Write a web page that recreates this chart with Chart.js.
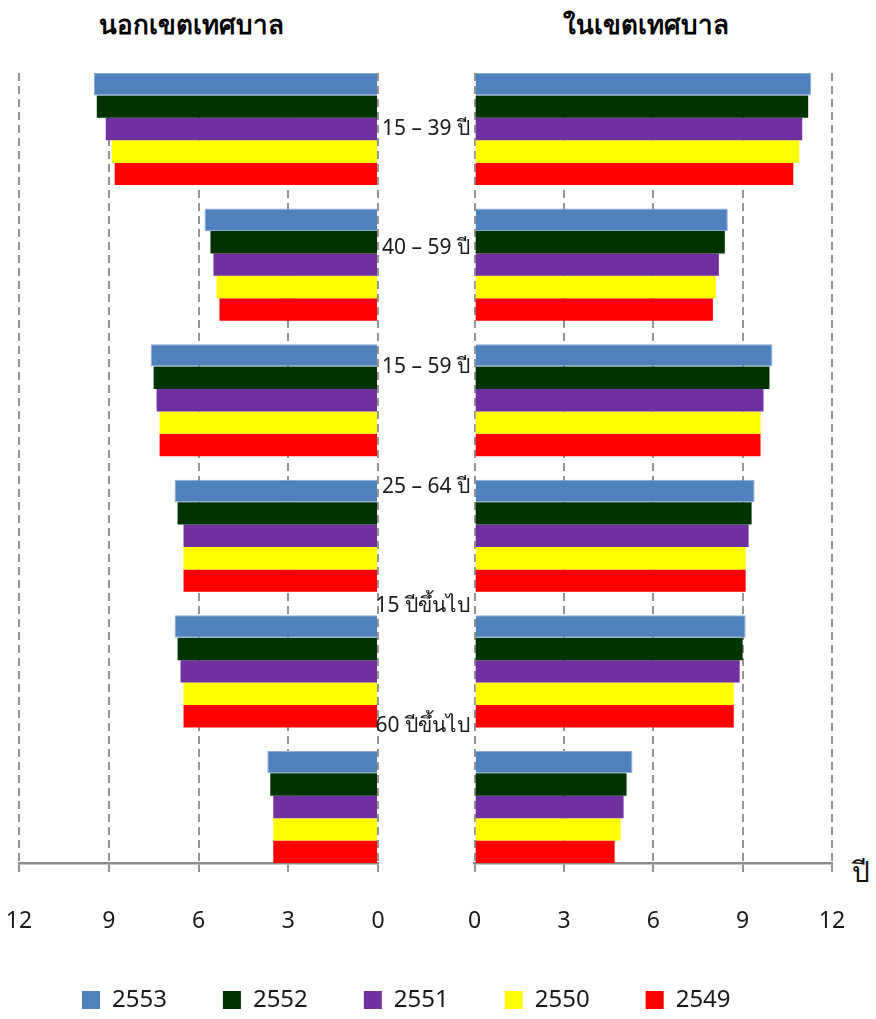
<!DOCTYPE html>
<html>
<head>
<meta charset="utf-8">
<script src="https://cdn.jsdelivr.net/npm/chart.js@4.4.1/dist/chart.umd.min.js"></script>
<style>
  html, body { margin: 0; padding: 0; background: #ffffff; }
  body { width: 876px; height: 1019px; position: relative; overflow: hidden;
         font-family: Tahoma, 'Noto Sans', 'DejaVu Sans', sans-serif; }
  .box { position: absolute; }
  .title { position: absolute; text-align: center; font-weight: bold; font-size: 26px; color: #000; white-space: nowrap; }
  .unit { position: absolute; font-size: 28px; color: #111; }
</style>
</head>
<body>
<div class="title" style="left:91px; top:4px; width:201px;">นอกเขตเทศบาล</div>
<div class="title" style="left:546px; top:4px; width:200px;">ในเขตเทศบาล</div>
<div class="unit" style="left:852px; top:850px;">ปี</div>

<div class="box" style="left:0px; top:0px; width:390px; height:960px;"><canvas id="left"></canvas></div>
<div class="box" style="left:460px; top:0px; width:392px; height:960px;"><canvas id="right"></canvas></div>
<div class="box" style="left:362px; top:0px; width:114px; height:800px;"><canvas id="labels"></canvas></div>
<div class="box" style="left:0px; top:932px; width:876px; height:140px;"><canvas id="legend"></canvas></div>

<script>
// ---- data ----
const categories = ['15 – 39 ปี', '40 – 59 ปี', '15 – 59 ปี', '25 – 64 ปี', '15 ปีขึ้นไป', '60 ปีขึ้นไป'];
const years = ['2553', '2552', '2551', '2550', '2549'];
const colors = ['#4F81BD', '#003300', '#7030A0', '#FFFF00', '#FF0000'];

// นอกเขตเทศบาล (outside municipal area)
const outside2553 = [9.5, 5.8, 7.6, 6.8, 6.8, 3.7];
const outside2552 = [9.4, 5.6, 7.5, 6.7, 6.7, 3.6];
const outside2551 = [9.1, 5.5, 7.4, 6.5, 6.6, 3.5];
const outside2550 = [8.9, 5.4, 7.3, 6.5, 6.5, 3.5];
const outside2549 = [8.8, 5.3, 7.3, 6.5, 6.5, 3.5];

// ในเขตเทศบาล (inside municipal area)
const inside2553 = [11.3, 8.5, 10.0, 9.4, 9.1, 5.3];
const inside2552 = [11.2, 8.4, 9.9, 9.3, 9.0, 5.1];
const inside2551 = [11.0, 8.2, 9.7, 9.2, 8.9, 5.0];
const inside2550 = [10.9, 8.1, 9.6, 9.1, 8.7, 4.9];
const inside2549 = [10.7, 8.0, 9.6, 9.1, 8.7, 4.7];

const xTicks = [0, 3, 6, 9, 12];

// ---- build ----
const FONT = "Tahoma, 'Noto Sans', 'DejaVu Sans', sans-serif";
const CAT_PCT = 0.8266;
const outsideSeries = [outside2553, outside2552, outside2551, outside2550, outside2549];
const insideSeries = [inside2553, inside2552, inside2551, inside2550, inside2549];

function makeDatasets(series) {
  return series.map((vals, i) => ({
    label: years[i],
    data: vals.map((v, j) => ({ x: v, y: j })),
    backgroundColor: colors[i],
    borderColor: i === 0 ? '#8EAAD6' : colors[i],
    borderWidth: i === 0 ? 1 : 0,
    categoryPercentage: CAT_PCT,
    barPercentage: 1.0
  }));
}

function barOptions(reverse, pad) {
  return {
    responsive: true,
    maintainAspectRatio: false,
    animation: false,
    indexAxis: 'y',
    layout: { padding: pad },
    plugins: { legend: { display: false }, tooltip: { enabled: false } },
    scales: {
      x: {
        type: 'linear',
        reverse: reverse,
        min: 0, max: 12,
        afterBuildTicks: (s) => { s.ticks = xTicks.map(v => ({ value: v })); },
        afterFit: (s) => { s.height = 97; },
        grid: {
          color: '#959595', lineWidth: 2,
          drawTicks: true, tickLength: 9,
          tickColor: '#959595', tickWidth: 2, tickBorderDash: []
        },
        border: { display: true, color: '#8c8c8c', width: 2.5, dash: [8, 5] },
        ticks: { color: '#1a1a1a', font: { family: FONT, size: 23, lineHeight: 4.26 }, padding: 0, maxRotation: 0 }
      },
      y: {
        type: 'linear',
        display: false,
        reverse: true,
        offset: false,
        min: -CAT_PCT / 2,
        max: categories.length - 1 + CAT_PCT / 2,
        afterBuildTicks: (s) => { s.ticks = categories.map((c, i) => ({ value: i })); }
      }
    }
  };
}

new Chart(document.getElementById('left'), {
  type: 'bar',
  data: { datasets: makeDatasets(outsideSeries) },
  options: barOptions(true, { left: 19, right: 12, top: 73, bottom: 0 })
});

new Chart(document.getElementById('right'), {
  type: 'bar',
  data: { datasets: makeDatasets(insideSeries) },
  options: barOptions(false, { left: 14.7, right: 20, top: 73, bottom: 0 })
});

// category labels in the middle
new Chart(document.getElementById('labels'), {
  type: 'bar',
  data: { labels: categories, datasets: [{ data: [] }] },
  options: {
    responsive: true, maintainAspectRatio: false, animation: false,
    indexAxis: 'y',
    layout: { padding: { left: 0, right: 0, top: 69, bottom: 11 } },
    plugins: { legend: { display: false }, tooltip: { enabled: false } },
    scales: {
      x: { display: false },
      y: {
        type: 'category', position: 'left', offset: true,
        afterFit: (s) => { s.width = 110; },
        grid: { display: false, drawTicks: false },
        border: { display: false },
        ticks: { color: '#1a1a1a', font: { family: FONT, size: 21 }, padding: 2 }
      }
    }
  }
});

// legend
new Chart(document.getElementById('legend'), {
  type: 'bar',
  data: { labels: [], datasets: years.map((y, i) => ({ label: y, data: [], backgroundColor: colors[i] })) },
  options: {
    responsive: true, maintainAspectRatio: false, animation: false,
    layout: { padding: { left: 26, top: 0, right: 0, bottom: 0 } },
    scales: { x: { display: false }, y: { display: false } },
    plugins: {
      tooltip: { enabled: false },
      legend: {
        display: true, position: 'top', align: 'start', maxHeight: 200,
        labels: {
          boxWidth: 18, boxHeight: 18, padding: 56, color: '#1a1a1a',
          font: { family: FONT, size: 24 }
        }
      }
    }
  }
});
</script>
</body>
</html>
